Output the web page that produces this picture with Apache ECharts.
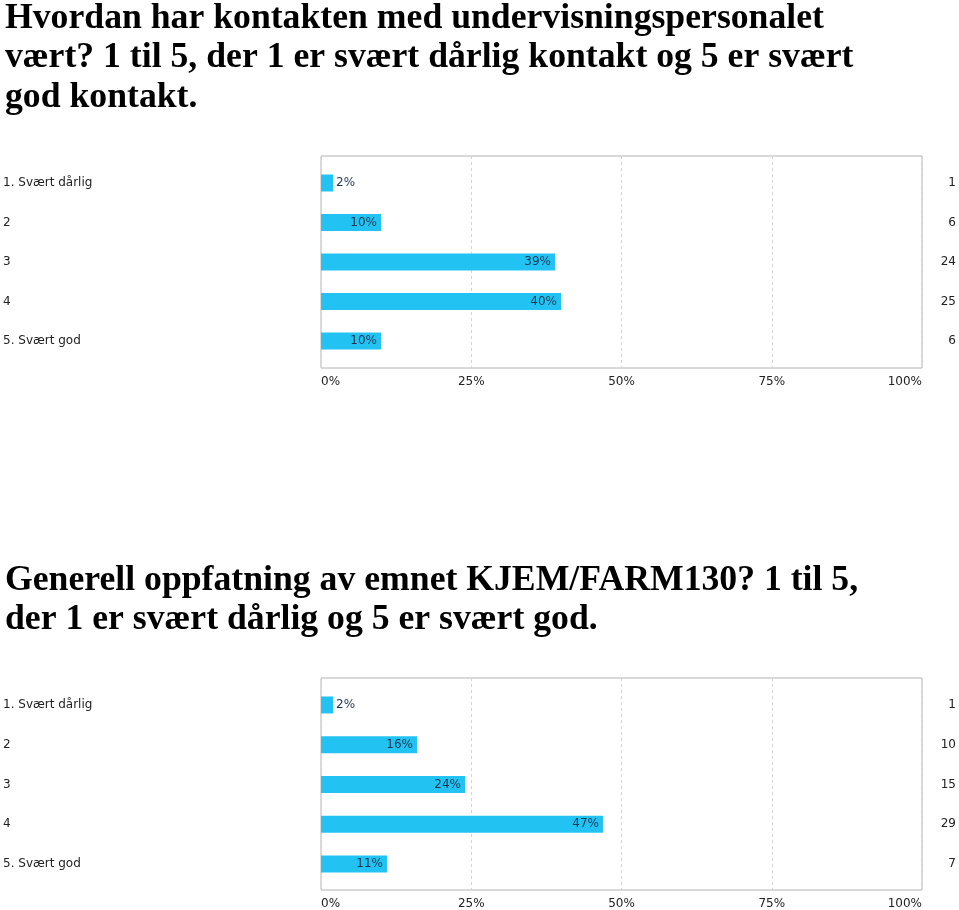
<!DOCTYPE html>
<html><head><meta charset="utf-8">
<script src="https://cdn.jsdelivr.net/npm/echarts@6/dist/echarts.min.js"></script>
<style>html,body{margin:0;padding:0;background:#fff}#c{width:959px;height:910px}</style>
</head><body><div id="c"></div>
<script>
const categories = ['1. Svært dårlig', '2', '3', '4', '5. Svært god'];
const title1 = 'Hvordan har kontakten med undervisningspersonalet\nvært? 1 til 5, der 1 er svært dårlig kontakt og 5 er svært\ngod kontakt.';
const title2 = 'Generell oppfatning av emnet KJEM/FARM130? 1 til 5,\nder 1 er svært dårlig og 5 er svært god.';
const percent1 = [2, 10, 39, 40, 10];
const counts1 = [1, 6, 24, 25, 6];
const percent2 = [2, 16, 24, 47, 11];
const counts2 = [1, 10, 15, 29, 7];
const xTicks = [0, 25, 50, 75, 100];

const BAR = '#22c3f3';
const LBL = '#1f3550';
const FONT = 'DejaVu Sans';

function frameGrid(top, height) {
  return {left: 321, width: 601, top: top, height: height, show: true, borderColor: '#b4b4b4', borderWidth: 1, backgroundColor: 'transparent'};
}
function barGrid(top, height) {
  return {left: 321, width: 601, top: top, height: height, show: false};
}
const grids = [frameGrid(156, 212), barGrid(163.25, 197.5), frameGrid(678, 212), barGrid(685.1, 198.75)];

function frameX(gi) {
  return {type: 'value', gridIndex: gi, min: xTicks[0], max: xTicks[xTicks.length - 1], interval: 25,
    axisLine: {show: false}, axisTick: {show: false},
    splitLine: {show: true, lineStyle: {color: '#d4d4d4', type: [3, 3], width: 1}},
    axisLabel: {formatter: '{value}%', margin: 8, color: '#222', fontFamily: FONT, fontSize: 12, alignMinLabel: 'left', alignMaxLabel: 'right'}};
}
function barX(gi) {
  return {type: 'value', gridIndex: gi, min: 0, max: 100, show: false, splitLine: {show: false}};
}
function frameY(gi) {
  return {type: 'value', gridIndex: gi, show: false, splitLine: {show: false}};
}
function leftY(gi) {
  return {type: 'category', gridIndex: gi, data: categories, inverse: true, position: 'left',
    axisLine: {show: false}, axisTick: {show: false}, splitLine: {show: false},
    axisLabel: {align: 'left', margin: 318, color: '#222', fontFamily: FONT, fontSize: 12}};
}
function rightY(gi, counts) {
  return {type: 'category', gridIndex: gi, data: counts.map(String), inverse: true, position: 'right',
    axisLine: {show: false}, axisTick: {show: false}, splitLine: {show: false},
    axisLabel: {align: 'right', margin: 35, color: '#222', fontFamily: FONT, fontSize: 12}};
}
function barData(pcts) {
  return pcts.map(v => ({value: v, label: {position: v < 5 ? 'right' : 'insideRight', distance: v < 5 ? 3 : 4}}));
}
function barSeries(xi, yi, pcts) {
  return {type: 'bar', xAxisIndex: xi, yAxisIndex: yi, data: barData(pcts), barWidth: 17,
    itemStyle: {color: BAR}, silent: true,
    label: {show: true, formatter: '{c}%', color: LBL, fontFamily: FONT, fontSize: 12}};
}

const titleStyle = {fontFamily: 'Liberation Serif', fontWeight: 'bold', fontSize: 35.7, lineHeight: 39.5, color: '#000'};
const option = {
  animation: false,
  backgroundColor: '#fff',
  title: [
    {text: title1, left: 0, top: -6, textStyle: titleStyle},
    {text: title2, left: 0, top: 556, textStyle: titleStyle}
  ],
  grid: grids,
  xAxis: [frameX(0), barX(1), frameX(2), barX(3)],
  yAxis: [frameY(0), leftY(1), rightY(1, counts1), frameY(2), leftY(3), rightY(3, counts2)],
  series: [
    barSeries(1, 1, percent1),
    barSeries(3, 4, percent2)
  ]
};
const chart = echarts.init(document.getElementById('c'), null, {renderer: 'canvas'});
chart.setOption(option);
</script></body></html>
